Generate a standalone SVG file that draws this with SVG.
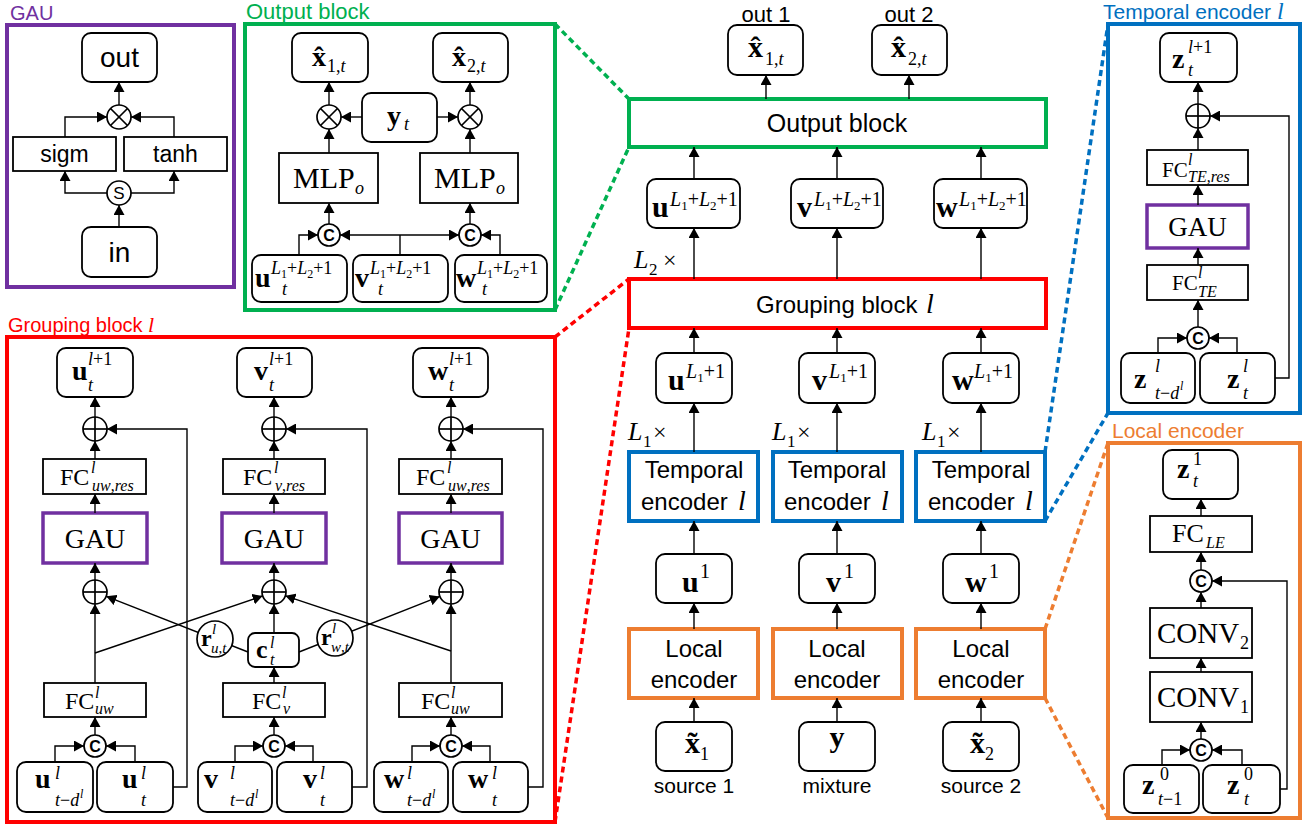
<svg xmlns="http://www.w3.org/2000/svg" width="1310" height="825" viewBox="0 0 1310 825">
<defs>
<marker id="ah" viewBox="0 0 10 11" refX="10" refY="5.5" markerWidth="10" markerHeight="11" markerUnits="userSpaceOnUse" orient="auto"><path d="M0,0L10,5.5L0,11z" fill="#000"/></marker>
</defs>
<style>
.bx{fill:#fff;stroke:#000;stroke-width:1.8}
.c{fill:none;stroke:#000;stroke-width:1.4;marker-end:url(#ah)}
.l{fill:none;stroke:#000;stroke-width:1.4}
.op{fill:#fff;stroke:#000;stroke-width:1.7}
.opl{stroke:#000;stroke-width:1.7}
.sans{font-family:"Liberation Sans",Arial,sans-serif}
.ser{font-family:"Liberation Serif","Times New Roman",serif}
.mb{font-family:"Liberation Serif","Times New Roman",serif;font-weight:bold;font-size:28px}
.mb30{font-family:"Liberation Serif","Times New Roman",serif;font-weight:bold;font-size:30px}
.s{font-family:"Liberation Serif","Times New Roman",serif;font-size:18px}
.s20{font-family:"Liberation Serif","Times New Roman",serif;font-size:20px}
.s16{font-family:"Liberation Serif","Times New Roman",serif;font-size:16px}
.i{font-style:italic}
.cc{font-family:"Liberation Sans",Arial,sans-serif;font-size:16px;font-weight:bold}
.gf{fill:none;stroke:#00B050;stroke-width:4}
.rf{fill:none;stroke:#FF0000;stroke-width:4}
.bf{fill:none;stroke:#0070C0;stroke-width:4}
.of{fill:none;stroke:#ED7D31;stroke-width:4}
.pf{fill:#fff;stroke:#7030A0;stroke-width:3.5}
.dash{fill:none;stroke-width:3.5;stroke-dasharray:6 4}
</style>

<!-- ================= GAU panel ================= -->
<g id="gau-panel">
<rect x="7" y="25" width="227" height="262" fill="none" stroke="#7030A0" stroke-width="4"/>
<text x="10" y="20" class="sans" font-size="20" fill="#7030A0">GAU</text>
</g>
<g id="gau-out"><rect class="bx" x="82" y="33" width="75" height="49" rx="9"/><text x="119.5" y="67" class="sans" font-size="28" text-anchor="middle">out</text></g>
<g id="gau-mul"><circle class="op" cx="119" cy="117" r="12"/><line class="opl" x1="110.5" y1="108.5" x2="127.5" y2="125.5"/><line class="opl" x1="127.5" y1="108.5" x2="110.5" y2="125.5"/></g>
<g id="gau-sigm"><rect class="bx" x="13" y="137" width="103" height="34"/><text x="64.5" y="162" class="sans" font-size="23" text-anchor="middle">sigm</text></g>
<g id="gau-tanh"><rect class="bx" x="124" y="137" width="103" height="34"/><text x="175.5" y="162" class="sans" font-size="23" text-anchor="middle">tanh</text></g>
<g id="gau-split"><circle class="op" cx="119" cy="193" r="12"/><text x="119" y="199" class="sans" font-size="17" text-anchor="middle">S</text></g>
<g id="gau-in"><rect class="bx" x="82" y="227" width="75" height="50" rx="9"/><text x="119.5" y="262" class="sans" font-size="28" text-anchor="middle">in</text></g>

<!-- ================= Output block panel ================= -->
<g id="ob-panel">
<rect class="gf" x="245" y="24" width="310" height="286"/>
<text x="246" y="19" class="sans" font-size="22" fill="#00B050">Output block</text>
</g>
<g id="ob-x1"><rect class="bx" x="292" y="33" width="76" height="49" rx="9"/>
<text x="312" y="66" class="mb">x</text><text x="319" y="66" class="mb" text-anchor="middle">ˆ</text>
<text x="327" y="72" class="s">1,<tspan class="i">t</tspan></text></g>
<g id="ob-x2"><rect class="bx" x="433" y="33" width="75" height="49" rx="9"/>
<text x="452" y="66" class="mb">x</text><text x="459" y="66" class="mb" text-anchor="middle">ˆ</text>
<text x="467" y="72" class="s">2,<tspan class="i">t</tspan></text></g>
<g id="ob-mul1"><circle class="op" cx="329" cy="117" r="12"/><line class="opl" x1="320.5" y1="108.5" x2="337.5" y2="125.5"/><line class="opl" x1="337.5" y1="108.5" x2="320.5" y2="125.5"/></g>
<g id="ob-mul2"><circle class="op" cx="470" cy="117" r="12"/><line class="opl" x1="461.5" y1="108.5" x2="478.5" y2="125.5"/><line class="opl" x1="478.5" y1="108.5" x2="461.5" y2="125.5"/></g>
<g id="ob-y"><rect class="bx" x="362" y="93" width="75" height="49" rx="9"/><text x="387" y="125" class="mb">y</text><text x="404" y="130" class="s i">t</text></g>
<g id="ob-mlp1"><rect class="bx" x="279" y="153" width="99" height="50"/><text x="293" y="188" class="ser" font-size="30">MLP</text><text x="355" y="194" class="s i">o</text></g>
<g id="ob-mlp2"><rect class="bx" x="420" y="153" width="98" height="50"/><text x="434" y="188" class="ser" font-size="30">MLP</text><text x="496" y="194" class="s i">o</text></g>
<g id="ob-c1"><circle class="op" cx="329" cy="235" r="11"/><text x="329" y="241" class="cc" text-anchor="middle">C</text></g>
<g id="ob-c2"><circle class="op" cx="470" cy="235" r="11"/><text x="470" y="241" class="cc" text-anchor="middle">C</text></g>
<g id="ob-u"><rect class="bx" x="252" y="255" width="95" height="47" rx="9"/>
<text x="255" y="287" class="mb">u</text>
<text x="271" y="274" class="s"><tspan class="i">L</tspan><tspan font-size="12" dy="4">1</tspan><tspan dy="-4">+</tspan><tspan class="i">L</tspan><tspan font-size="12" dy="4">2</tspan><tspan dy="-4">+1</tspan></text>
<text x="282" y="295" class="s i">t</text></g>
<g id="ob-v"><rect class="bx" x="353" y="255" width="95" height="47" rx="9"/>
<text x="355" y="287" class="mb">v</text>
<text x="370" y="274" class="s"><tspan class="i">L</tspan><tspan font-size="12" dy="4">1</tspan><tspan dy="-4">+</tspan><tspan class="i">L</tspan><tspan font-size="12" dy="4">2</tspan><tspan dy="-4">+1</tspan></text>
<text x="378" y="295" class="s i">t</text></g>
<g id="ob-w"><rect class="bx" x="455" y="255" width="92" height="47" rx="9"/>
<text x="456" y="287" class="mb">w</text>
<text x="477" y="274" class="s"><tspan class="i">L</tspan><tspan font-size="12" dy="4">1</tspan><tspan dy="-4">+</tspan><tspan class="i">L</tspan><tspan font-size="12" dy="4">2</tspan><tspan dy="-4">+1</tspan></text>
<text x="482" y="295" class="s i">t</text></g>

<!-- ================= Center column ================= -->
<g id="c-out1"><text x="766" y="22" class="sans" font-size="22" text-anchor="middle">out 1</text>
<rect class="bx" x="728" y="25" width="75" height="50" rx="9"/>
<text x="748" y="57" class="mb30">x</text><text x="755.5" y="57" class="mb30" text-anchor="middle">ˆ</text>
<text x="765" y="65" class="s" font-size="19">1,<tspan class="i">t</tspan></text></g>
<g id="c-out2"><text x="909" y="22" class="sans" font-size="22" text-anchor="middle">out 2</text>
<rect class="bx" x="872" y="25" width="75" height="50" rx="9"/>
<text x="891" y="57" class="mb30">x</text><text x="898.5" y="57" class="mb30" text-anchor="middle">ˆ</text>
<text x="908" y="65" class="s" font-size="19">2,<tspan class="i">t</tspan></text></g>
<g id="c-output"><rect class="gf" x="629" y="99" width="417" height="48" fill="#fff"/><text x="837" y="132" class="sans" font-size="25" text-anchor="middle">Output block</text></g>
<g id="c-uL"><rect class="bx" x="647" y="179" width="93" height="49" rx="9"/><text x="652" y="217" class="mb30">u</text>
<text x="670" y="206" class="s20"><tspan class="i">L</tspan><tspan font-size="13" dy="4">1</tspan><tspan dy="-4">+</tspan><tspan class="i">L</tspan><tspan font-size="13" dy="4">2</tspan><tspan dy="-4">+1</tspan></text></g>
<g id="c-vL"><rect class="bx" x="791" y="179" width="92" height="49" rx="9"/><text x="797" y="217" class="mb30">v</text>
<text x="814" y="206" class="s20"><tspan class="i">L</tspan><tspan font-size="13" dy="4">1</tspan><tspan dy="-4">+</tspan><tspan class="i">L</tspan><tspan font-size="13" dy="4">2</tspan><tspan dy="-4">+1</tspan></text></g>
<g id="c-wL"><rect class="bx" x="934" y="179" width="93" height="49" rx="9"/><text x="936" y="217" class="mb30">w</text>
<text x="959" y="206" class="s20"><tspan class="i">L</tspan><tspan font-size="13" dy="4">1</tspan><tspan dy="-4">+</tspan><tspan class="i">L</tspan><tspan font-size="13" dy="4">2</tspan><tspan dy="-4">+1</tspan></text></g>
<g id="c-L2"><text x="634" y="268" class="ser i" font-size="26">L</text><text x="649" y="275" class="ser" font-size="17">2</text><text x="663" y="268" class="ser" font-size="24">×</text></g>
<g id="c-group"><rect class="rf" x="629" y="279" width="417" height="49" fill="#fff"/><text x="756" y="313" class="sans" font-size="24">Grouping block</text><text x="926" y="313" class="ser i" font-size="28">l</text></g>
<g id="c-u1"><rect class="bx" x="656" y="353" width="76" height="50" rx="9"/><text x="668" y="390" class="mb30">u</text>
<text x="686" y="378" class="s20"><tspan class="i">L</tspan><tspan font-size="13" dy="4">1</tspan><tspan dy="-4">+1</tspan></text></g>
<g id="c-v1"><rect class="bx" x="799" y="353" width="76" height="50" rx="9"/><text x="812" y="390" class="mb30">v</text>
<text x="829" y="378" class="s20"><tspan class="i">L</tspan><tspan font-size="13" dy="4">1</tspan><tspan dy="-4">+1</tspan></text></g>
<g id="c-w1"><rect class="bx" x="943" y="353" width="76" height="50" rx="9"/><text x="952" y="390" class="mb30">w</text>
<text x="974" y="378" class="s20"><tspan class="i">L</tspan><tspan font-size="13" dy="4">1</tspan><tspan dy="-4">+1</tspan></text></g>
<g id="c-L1a"><text x="628" y="440" class="ser i" font-size="26">L</text><text x="643" y="447" class="ser" font-size="17">1</text><text x="653" y="440" class="ser" font-size="24">×</text></g>
<g id="c-L1b"><text x="772" y="440" class="ser i" font-size="26">L</text><text x="787" y="447" class="ser" font-size="17">1</text><text x="797" y="440" class="ser" font-size="24">×</text></g>
<g id="c-L1c"><text x="922" y="440" class="ser i" font-size="26">L</text><text x="937" y="447" class="ser" font-size="17">1</text><text x="947" y="440" class="ser" font-size="24">×</text></g>
<g id="c-te1"><rect class="bf" x="629" y="452" width="129" height="69" fill="#fff"/><text x="694" y="478" class="sans" font-size="24" text-anchor="middle">Temporal</text><text x="641" y="510" class="sans" font-size="24">encoder</text><text x="738" y="510" class="ser i" font-size="28">l</text></g>
<g id="c-te2"><rect class="bf" x="773" y="452" width="129" height="69" fill="#fff"/><text x="837" y="478" class="sans" font-size="24" text-anchor="middle">Temporal</text><text x="784" y="510" class="sans" font-size="24">encoder</text><text x="881" y="510" class="ser i" font-size="28">l</text></g>
<g id="c-te3"><rect class="bf" x="916" y="452" width="129" height="69" fill="#fff"/><text x="981" y="478" class="sans" font-size="24" text-anchor="middle">Temporal</text><text x="928" y="510" class="sans" font-size="24">encoder</text><text x="1025" y="510" class="ser i" font-size="28">l</text></g>
<g id="c-u0"><rect class="bx" x="656" y="554" width="76" height="49" rx="9"/><text x="682" y="592" class="mb30">u</text><text x="700" y="578" class="s20">1</text></g>
<g id="c-v0"><rect class="bx" x="799" y="554" width="76" height="49" rx="9"/><text x="826" y="592" class="mb30">v</text><text x="844" y="578" class="s20">1</text></g>
<g id="c-w0"><rect class="bx" x="943" y="554" width="76" height="49" rx="9"/><text x="965" y="592" class="mb30">w</text><text x="989" y="578" class="s20">1</text></g>
<g id="c-le1"><rect class="of" x="629" y="629" width="129" height="69" fill="#fff"/><text x="694" y="657" class="sans" font-size="24" text-anchor="middle">Local</text><text x="694" y="688" class="sans" font-size="24" text-anchor="middle">encoder</text></g>
<g id="c-le2"><rect class="of" x="773" y="629" width="129" height="69" fill="#fff"/><text x="837" y="657" class="sans" font-size="24" text-anchor="middle">Local</text><text x="837" y="688" class="sans" font-size="24" text-anchor="middle">encoder</text></g>
<g id="c-le3"><rect class="of" x="916" y="629" width="129" height="69" fill="#fff"/><text x="981" y="657" class="sans" font-size="24" text-anchor="middle">Local</text><text x="981" y="688" class="sans" font-size="24" text-anchor="middle">encoder</text></g>
<g id="c-x1"><rect class="bx" x="656" y="722" width="76" height="49" rx="9"/><text x="685" y="753" class="mb30">x</text><text x="692.5" y="753" class="mb30" text-anchor="middle">˜</text><text x="700" y="760" class="s">1</text>
<text x="694" y="793" class="sans" font-size="21" text-anchor="middle">source 1</text></g>
<g id="c-y"><rect class="bx" x="799" y="722" width="76" height="49" rx="9"/><text x="837" y="747" class="mb30" text-anchor="middle">y</text>
<text x="837" y="793" class="sans" font-size="21" text-anchor="middle">mixture</text></g>
<g id="c-x2"><rect class="bx" x="943" y="722" width="76" height="49" rx="9"/><text x="970" y="753" class="mb30">x</text><text x="977.5" y="753" class="mb30" text-anchor="middle">˜</text><text x="985" y="760" class="s">2</text>
<text x="981" y="793" class="sans" font-size="21" text-anchor="middle">source 2</text></g>

<!-- ================= Temporal encoder panel ================= -->
<g id="te-panel"><rect class="bf" x="1108" y="24" width="192" height="389"/>
<text x="1103" y="19" class="sans" font-size="21" fill="#0070C0">Temporal encoder <tspan class="ser i" font-size="24">l</tspan></text></g>
<g id="te-zout"><rect class="bx" x="1160" y="33" width="77" height="49" rx="9"/><text x="1172" y="68" class="mb">z</text><text x="1188" y="53" class="s"><tspan class="i">l</tspan>+1</text><text x="1188" y="76" class="s i">t</text></g>
<g id="te-add"><circle class="op" cx="1198" cy="116" r="12"/><line class="opl" x1="1186" y1="116" x2="1210" y2="116"/><line class="opl" x1="1198" y1="104" x2="1198" y2="128"/></g>
<g id="te-fcres"><rect class="bx" x="1147" y="150" width="101" height="35"/><text x="1162" y="177" class="ser" font-size="21">FC</text><text x="1188" y="165" class="s16 i">l</text><text x="1188" y="182" class="s16 i">TE<tspan font-style="normal">,</tspan>res</text></g>
<g id="te-gau"><rect class="pf" x="1147" y="205" width="101" height="43"/><text x="1197.5" y="236" class="ser" font-size="27" text-anchor="middle">GAU</text></g>
<g id="te-fc"><rect class="bx" x="1147" y="265" width="101" height="35"/><text x="1172" y="290" class="ser" font-size="21">FC</text><text x="1198" y="278" class="s16 i">l</text><text x="1198" y="297" class="s16 i">TE</text></g>
<g id="te-cat"><circle class="op" cx="1198" cy="338" r="11"/><text x="1198" y="344" class="cc" text-anchor="middle">C</text></g>
<g id="te-zd"><rect class="bx" x="1121" y="353" width="74" height="50" rx="9"/><text x="1134" y="388" class="mb">z</text><text x="1155" y="372" class="s i">l</text><text x="1155" y="399" class="s"><tspan class="i">t</tspan>−<tspan class="i">d</tspan></text><text x="1180" y="390" class="ser i" font-size="12">l</text></g>
<g id="te-zt"><rect class="bx" x="1200" y="353" width="75" height="50" rx="9"/><text x="1227" y="388" class="mb">z</text><text x="1243" y="372" class="s i">l</text><text x="1243" y="399" class="s i">t</text></g>

<!-- ================= Local encoder panel ================= -->
<g id="le-panel"><rect class="of" x="1108" y="443" width="192" height="375"/>
<text x="1112" y="438" class="sans" font-size="21" fill="#ED7D31">Local encoder</text></g>
<g id="le-z1"><rect class="bx" x="1163" y="450" width="75" height="49" rx="9"/><text x="1177" y="478" class="mb">z</text><text x="1193" y="465" class="s">1</text><text x="1193" y="487" class="s i">t</text></g>
<g id="le-fc"><rect class="bx" x="1150" y="516" width="102" height="36"/><text x="1172" y="542" class="ser" font-size="26">FC</text><text x="1206" y="548" class="s16 i">LE</text></g>
<g id="le-cat2"><circle class="op" cx="1201" cy="581" r="11"/><text x="1201" y="587" class="cc" text-anchor="middle">C</text></g>
<g id="le-conv2"><rect class="bx" x="1150" y="608" width="102" height="50"/><text x="1157" y="643" class="ser" font-size="29">CONV</text><text x="1240" y="649" class="s">2</text></g>
<g id="le-conv1"><rect class="bx" x="1150" y="672" width="102" height="50"/><text x="1157" y="707" class="ser" font-size="29">CONV</text><text x="1240" y="713" class="s">1</text></g>
<g id="le-cat1"><circle class="op" cx="1201" cy="750" r="11"/><text x="1201" y="756" class="cc" text-anchor="middle">C</text></g>
<g id="le-zp"><rect class="bx" x="1124" y="765" width="75" height="48" rx="9"/><text x="1142" y="794" class="mb">z</text><text x="1160" y="780" class="s">0</text><text x="1158" y="805" class="s"><tspan class="i">t</tspan>−1</text></g>
<g id="le-zt"><rect class="bx" x="1203" y="765" width="77" height="48" rx="9"/><text x="1227" y="794" class="mb">z</text><text x="1244" y="780" class="s">0</text><text x="1244" y="805" class="s i">t</text></g>

<!-- ================= Grouping block panel ================= -->
<g id="gb-panel"><rect class="rf" x="7" y="337" width="548" height="485"/>
<text x="8" y="332" class="sans" font-size="20" fill="#FF0000">Grouping block <tspan class="ser i" font-size="22">l</tspan></text></g>
<g id="gb-uo"><rect class="bx" x="57" y="348" width="76" height="49" rx="9"/><text x="72" y="380" class="mb">u</text><text x="88" y="365" class="s"><tspan class="i">l</tspan>+1</text><text x="88" y="391" class="s i">t</text></g>
<g id="gb-vo"><rect class="bx" x="237" y="348" width="75" height="49" rx="9"/><text x="254" y="380" class="mb">v</text><text x="269" y="365" class="s"><tspan class="i">l</tspan>+1</text><text x="269" y="391" class="s i">t</text></g>
<g id="gb-wo"><rect class="bx" x="413" y="348" width="75" height="49" rx="9"/><text x="428" y="380" class="mb">w</text><text x="449" y="365" class="s"><tspan class="i">l</tspan>+1</text><text x="449" y="391" class="s i">t</text></g>
<g id="gb-add1"><circle class="op" cx="95" cy="429" r="12"/><line class="opl" x1="83" y1="429" x2="107" y2="429"/><line class="opl" x1="95" y1="417" x2="95" y2="441"/></g>
<g id="gb-add2"><circle class="op" cx="274" cy="429" r="12"/><line class="opl" x1="262" y1="429" x2="286" y2="429"/><line class="opl" x1="274" y1="417" x2="274" y2="441"/></g>
<g id="gb-add3"><circle class="op" cx="451" cy="429" r="12"/><line class="opl" x1="439" y1="429" x2="463" y2="429"/><line class="opl" x1="451" y1="417" x2="451" y2="441"/></g>
<g id="gb-fcr1"><rect class="bx" x="43" y="459" width="103" height="35"/><text x="60" y="485" class="ser" font-size="24">FC</text><text x="91" y="473" class="s16 i">l</text><text x="92" y="491" class="s16 i">uw<tspan font-style="normal">,</tspan>res</text></g>
<g id="gb-fcr2"><rect class="bx" x="223" y="459" width="102" height="35"/><text x="243" y="485" class="ser" font-size="24">FC</text><text x="274" y="473" class="s16 i">l</text><text x="275" y="491" class="s16 i">v<tspan font-style="normal">,</tspan>res</text></g>
<g id="gb-fcr3"><rect class="bx" x="399" y="459" width="103" height="35"/><text x="416" y="485" class="ser" font-size="24">FC</text><text x="447" y="473" class="s16 i">l</text><text x="448" y="491" class="s16 i">uw<tspan font-style="normal">,</tspan>res</text></g>
<g id="gb-gau1"><rect class="pf" x="43" y="513" width="104" height="50"/><text x="95" y="548" class="ser" font-size="28" text-anchor="middle">GAU</text></g>
<g id="gb-gau2"><rect class="pf" x="222" y="513" width="104" height="50"/><text x="274" y="548" class="ser" font-size="28" text-anchor="middle">GAU</text></g>
<g id="gb-gau3"><rect class="pf" x="399" y="513" width="103" height="50"/><text x="450.5" y="548" class="ser" font-size="28" text-anchor="middle">GAU</text></g>

<!-- connectors -->
<g id="connectors">
<line class="dash" stroke="#00B050" x1="555" y1="24" x2="629" y2="99"/>
<line class="dash" stroke="#00B050" x1="555" y1="310" x2="629" y2="147"/>
<line class="dash" stroke="#FF0000" x1="555" y1="337" x2="629" y2="279"/>
<line class="dash" stroke="#FF0000" x1="555" y1="822" x2="629" y2="328"/>
<line class="dash" stroke="#0070C0" x1="1045" y1="452" x2="1108" y2="24"/>
<line class="dash" stroke="#0070C0" x1="1045" y1="521" x2="1108" y2="413"/>
<line class="dash" stroke="#ED7D31" x1="1045" y1="629" x2="1108" y2="443"/>
<line class="dash" stroke="#ED7D31" x1="1045" y1="698" x2="1108" y2="818"/>
<path class="c" d="M119,227V205"/>
<path class="c" d="M107,193H65V171"/>
<path class="c" d="M131,193H174V171"/>
<path class="c" d="M65,137V117H107"/>
<path class="c" d="M174,137V117H131"/>
<path class="c" d="M119,105V82"/>
<path class="c" d="M299,255V235H318"/>
<path class="l" d="M400,255V235"/>
<path class="c" d="M400,235H340"/>
<path class="c" d="M400,235H459"/>
<path class="c" d="M500,255V235H481"/>
<path class="c" d="M329,224V203"/>
<path class="c" d="M470,224V203"/>
<path class="c" d="M329,153V129"/>
<path class="c" d="M470,153V129"/>
<path class="c" d="M362,117H341"/>
<path class="c" d="M437,117H458"/>
<path class="c" d="M329,105V82"/>
<path class="c" d="M470,105V82"/>
<path class="c" d="M694,722V698"/><path class="c" d="M837,722V698"/><path class="c" d="M981,722V698"/>
<path class="c" d="M694,629V603"/><path class="c" d="M837,629V603"/><path class="c" d="M981,629V603"/>
<path class="c" d="M694,554V521"/><path class="c" d="M837,554V521"/><path class="c" d="M981,554V521"/>
<path class="c" d="M694,452V403"/><path class="c" d="M837,452V403"/><path class="c" d="M981,452V403"/>
<path class="c" d="M694,353V328"/><path class="c" d="M837,353V328"/><path class="c" d="M981,353V328"/>
<path class="c" d="M694,279V228"/><path class="c" d="M837,279V228"/><path class="c" d="M981,279V228"/>
<path class="c" d="M694,179V147"/><path class="c" d="M837,179V147"/><path class="c" d="M981,179V147"/>
<path class="c" d="M766,99V75"/><path class="c" d="M909,99V75"/>
<path class="c" d="M1158,353V338H1187"/>
<path class="c" d="M1237,353V338H1209"/>
<path class="c" d="M1198,327V300"/>
<path class="c" d="M1198,265V248"/>
<path class="c" d="M1198,205V185"/>
<path class="c" d="M1198,150V128"/>
<path class="c" d="M1198,104V82"/>
<path class="c" d="M1275,378H1289V116H1210"/>
<path class="c" d="M1162,765V750H1190"/>
<path class="c" d="M1242,765V750H1212"/>
<path class="c" d="M1201,739V722"/>
<path class="c" d="M1201,672V658"/>
<path class="c" d="M1201,608V592"/>
<path class="c" d="M1201,570V552"/>
<path class="c" d="M1201,516V499"/>
<path class="c" d="M1280,789H1287V581H1212"/>
<path class="c" d="M55,762V746H84"/>
<path class="c" d="M135,762V746H106"/>
<path class="c" d="M235,762V746H263"/>
<path class="c" d="M313,762V746H285"/>
<path class="c" d="M412,762V746H440"/>
<path class="c" d="M490,762V746H462"/>
<path class="c" d="M95,735V717"/>
<path class="c" d="M274,735V717"/>
<path class="c" d="M451,735V717"/>
<path class="c" d="M95,683V604"/>
<path class="c" d="M274,683V667"/>
<path class="c" d="M274,633V604"/>
<path class="c" d="M451,683V604"/>
<path class="c" d="M95,580V563"/>
<path class="c" d="M274,580V563"/>
<path class="c" d="M451,580V563"/>
<path class="c" d="M95,513V494"/>
<path class="c" d="M274,513V494"/>
<path class="c" d="M451,513V494"/>
<path class="c" d="M95,459V441"/>
<path class="c" d="M274,459V441"/>
<path class="c" d="M451,459V441"/>
<path class="c" d="M95,417V397"/>
<path class="c" d="M274,417V397"/>
<path class="c" d="M451,417V397"/>
<path class="c" d="M173,787H187V429H107"/>
<path class="c" d="M352,787H367V429H286"/>
<path class="c" d="M528,787H543V429H463"/>
<path class="c" d="M95,653L262.6,595.9"/>
<path class="c" d="M451,651L285.4,595.8"/>
<path class="c" d="M248,652L106.3,596.3"/>
<path class="c" d="M299,652L439.8,596.4"/>
</g>

<g id="gb-add4"><circle class="op" cx="95" cy="592" r="12"/><line class="opl" x1="83" y1="592" x2="107" y2="592"/><line class="opl" x1="95" y1="580" x2="95" y2="604"/></g>
<g id="gb-add5"><circle class="op" cx="274" cy="592" r="12"/><line class="opl" x1="262" y1="592" x2="286" y2="592"/><line class="opl" x1="274" y1="580" x2="274" y2="604"/></g>
<g id="gb-add6"><circle class="op" cx="451" cy="592" r="12"/><line class="opl" x1="439" y1="592" x2="463" y2="592"/><line class="opl" x1="451" y1="580" x2="451" y2="604"/></g>
<g id="gb-ru"><circle class="op" cx="215" cy="639" r="18"/><text x="201" y="646" class="ser" font-weight="bold" font-size="24">r</text><text x="212" y="634" class="ser i" font-size="15">l</text><text x="211" y="653" class="ser" font-size="15"><tspan class="i">u</tspan>,<tspan class="i">t</tspan></text></g>
<g id="gb-rw"><circle class="op" cx="335" cy="638" r="18"/><text x="321" y="645" class="ser" font-weight="bold" font-size="24">r</text><text x="332" y="633" class="ser i" font-size="15">l</text><text x="331" y="652" class="ser" font-size="15"><tspan class="i">w</tspan>,<tspan class="i">t</tspan></text></g>
<g id="gb-c"><rect class="bx" x="248" y="633" width="51" height="34" rx="7"/><text x="256" y="658" class="ser" font-weight="bold" font-size="26">c</text><text x="270" y="648" class="s16 i">l</text><text x="270" y="665" class="s16 i">t</text></g>
<g id="gb-fc1"><rect class="bx" x="44" y="683" width="102" height="34"/><text x="65" y="709" class="ser" font-size="24">FC</text><text x="95" y="698" class="s16 i">l</text><text x="95" y="714" class="s16 i">uw</text></g>
<g id="gb-fc2"><rect class="bx" x="223" y="683" width="102" height="34"/><text x="252" y="709" class="ser" font-size="24">FC</text><text x="282" y="698" class="s16 i">l</text><text x="283" y="714" class="s16 i">v</text></g>
<g id="gb-fc3"><rect class="bx" x="399" y="683" width="103" height="34"/><text x="421" y="709" class="ser" font-size="24">FC</text><text x="451" y="698" class="s16 i">l</text><text x="451" y="714" class="s16 i">uw</text></g>
<g id="gb-cat1"><circle class="op" cx="95" cy="746" r="11"/><text x="95" y="752" class="cc" text-anchor="middle">C</text></g>
<g id="gb-cat2"><circle class="op" cx="274" cy="746" r="11"/><text x="274" y="752" class="cc" text-anchor="middle">C</text></g>
<g id="gb-cat3"><circle class="op" cx="451" cy="746" r="11"/><text x="451" y="752" class="cc" text-anchor="middle">C</text></g>
<g id="gb-ud"><rect class="bx" x="17" y="762" width="76" height="50" rx="9"/><text x="35" y="788" class="mb">u</text><text x="55" y="779" class="s i">l</text><text x="55" y="806" class="s"><tspan class="i">t</tspan>−<tspan class="i">d</tspan></text><text x="80" y="798" class="ser i" font-size="12">l</text></g>
<g id="gb-ut"><rect class="bx" x="97" y="762" width="76" height="50" rx="9"/><text x="122" y="788" class="mb">u</text><text x="141" y="779" class="s i">l</text><text x="141" y="806" class="s i">t</text></g>
<g id="gb-vd"><rect class="bx" x="198" y="762" width="74" height="50" rx="9"/><text x="204" y="788" class="mb">v</text><text x="230" y="779" class="s i">l</text><text x="230" y="806" class="s"><tspan class="i">t</tspan>−<tspan class="i">d</tspan></text><text x="255" y="798" class="ser i" font-size="12">l</text></g>
<g id="gb-vt"><rect class="bx" x="277" y="762" width="75" height="50" rx="9"/><text x="303" y="788" class="mb">v</text><text x="320" y="779" class="s i">l</text><text x="320" y="806" class="s i">t</text></g>
<g id="gb-wd"><rect class="bx" x="374" y="762" width="74" height="50" rx="9"/><text x="384" y="788" class="mb">w</text><text x="407" y="779" class="s i">l</text><text x="407" y="806" class="s"><tspan class="i">t</tspan>−<tspan class="i">d</tspan></text><text x="432" y="798" class="ser i" font-size="12">l</text></g>
<g id="gb-wt"><rect class="bx" x="453" y="762" width="75" height="50" rx="9"/><text x="468" y="788" class="mb">w</text><text x="492" y="779" class="s i">l</text><text x="492" y="806" class="s i">t</text></g>
</svg>
